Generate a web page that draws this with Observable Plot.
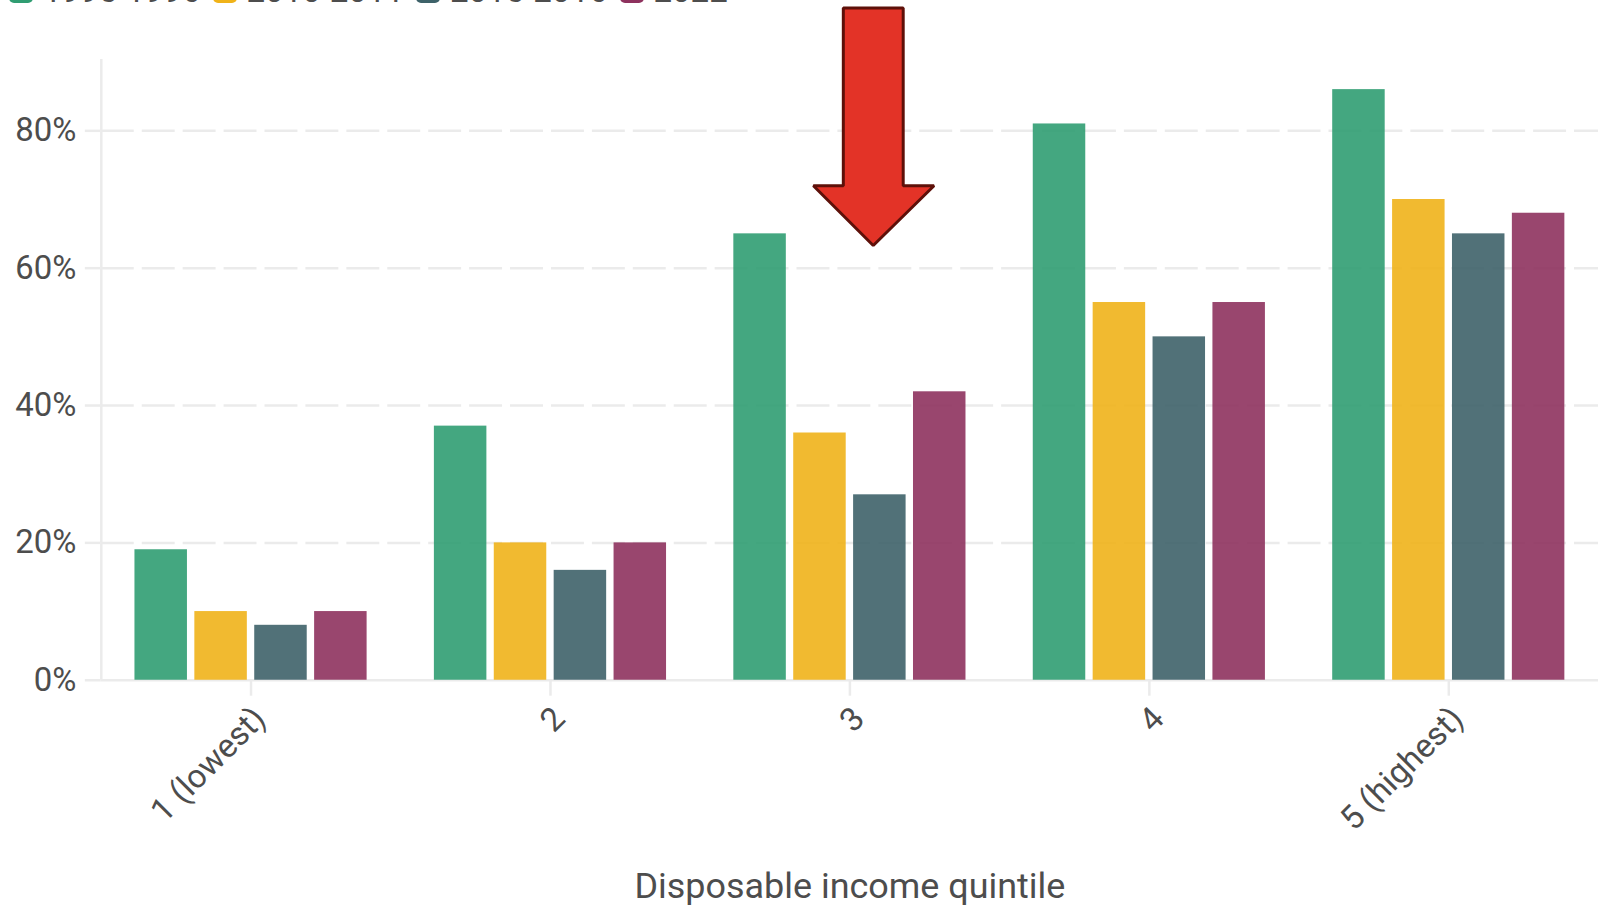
<!DOCTYPE html>
<html>
<head>
<meta charset="utf-8">
<script src="https://cdn.jsdelivr.net/npm/d3@7"></script>
<script src="https://cdn.jsdelivr.net/npm/@observablehq/plot@0.6"></script>
<style>
  html, body { margin: 0; padding: 0; background: #fff; overflow: hidden; }
  #wrap { position: relative; width: 1598px; height: 907px; overflow: hidden; font-family: Roboto, sans-serif; }
  #legend { position: absolute; left: 9px; top: -26px; height: 33px; display: flex; align-items: flex-end; }
  .item { display: flex; align-items: center; margin-right: 12px; }
  .sw { width: 24px; height: 24px; border-radius: 5px; margin-right: 10px; position: relative; top: 0px; }
  .lab { font-size: 33px; color: #4d4d4d; line-height: 33px; }
  #chart { position: absolute; left: 0; top: 7px; }
</style>
</head>
<body>
<div id="wrap">
  <div id="legend"></div>
  <div id="chart"></div>
</div>
<script>
// Share of households by disposable income quintile, across survey periods
const quintiles = ["1 (lowest)", "2", "3", "4", "5 (highest)"];
const periods = ["1995-1996", "2010-2011", "2015-2016", "2022"];
const share1995 = [19, 37, 65, 81, 86];
const share2010 = [10, 20, 36, 55, 70];
const share2015 = [8, 16, 27, 50, 65];
const share2022 = [10, 20, 42, 55, 68];
const periodColors = ["#309d72", "#f0b319", "#3e6269", "#8e325e"];
const yTicks = [0, 20, 40, 60, 80];
const xTitle = "Disposable income quintile";

// Block arrow annotation over quintile 3, in chart units (quintile, percent)
const arrowPath = [
  [2.978, 97.9], [3.178, 97.9], [3.178, 72.0], [3.281, 72.0],
  [3.078, 63.3], [2.878, 72.0], [2.978, 72.0]
];

const series = [share1995, share2010, share2015, share2022];
const step = 0.2, barW = 0.1753;
const rows = [];
series.forEach((vals, j) => {
  vals.forEach((v, i) => {
    const c = i + 1 + (j - 1.5) * step;
    rows.push({quintile: quintiles[i], period: periods[j], value: v, x1: c - barW / 2, x2: c + barW / 2});
  });
});

// Legend
const legend = document.getElementById("legend");
periods.forEach((p, j) => {
  const it = document.createElement("div");
  it.className = "item";
  it.innerHTML = `<span class="sw" style="background:${periodColors[j]}"></span><span class="lab">${p}</span>`;
  legend.appendChild(it);
});

const grid = "#ebebeb";
const ink = "#4d4d4d";

const chart = Plot.plot({
  width: 1601,
  height: 900,
  marginLeft: 101,
  marginRight: 0,
  marginTop: 52,
  marginBottom: 226,
  style: {fontFamily: "Roboto, sans-serif", fontSize: "33px", background: "transparent", overflow: "visible"},
  x: {type: "linear", domain: [0.5, 5.5]},
  y: {domain: [0, 90.4]},
  color: {domain: periods, range: periodColors},
  marks: [
    Plot.ruleY([20, 40, 60, 80], {stroke: grid, strokeWidth: 2.5, strokeDasharray: "33,8"}),
    Plot.ruleX([0.5], {y1: 0, y2: 90.4, stroke: grid, strokeWidth: 2.5}),
    Plot.ruleY([0], {stroke: grid, strokeWidth: 2.5}),
    Plot.axisY({ticks: yTicks, tickFormat: d => d + "%", tickSize: 16, tickPadding: 9,
      stroke: grid, strokeWidth: 2.5, fill: ink, fontSize: 33, label: null}),
    Plot.axisX({ticks: [1, 2, 3, 4, 5], tickFormat: d => quintiles[d - 1], tickRotate: -45,
      tickSize: 16, tickPadding: 6, stroke: grid, strokeWidth: 2.5, fill: ink, fontSize: 33, label: null}),
    Plot.rect(rows, {x1: "x1", x2: "x2", y1: 0, y2: "value", fill: "period", fillOpacity: 0.9}),
    Plot.text([xTitle], {frameAnchor: "bottom", dx: 0, dy: 218, fill: ink, fontSize: 36}),
    Plot.line(arrowPath, {x: d => d[0], y: d => d[1], curve: "linear-closed",
      fill: "#e33327", stroke: "#5e1009", strokeWidth: 3, strokeLinejoin: "miter", clip: false})
  ]
});
// nudge rotated quintile labels so their top-right corner sits at the tick end
chart.querySelectorAll("g[aria-label='x-axis tick label'] text").forEach(t => {
  const tr = t.getAttribute("transform") || "";
  t.setAttribute("transform", tr.replace(/translate\(([-\d.]+),([-\d.]+)\)/, (m, a, b) => `translate(${+a + 9},${+b + 11})`));
});
document.getElementById("chart").appendChild(chart);
</script>
</body>
</html>
